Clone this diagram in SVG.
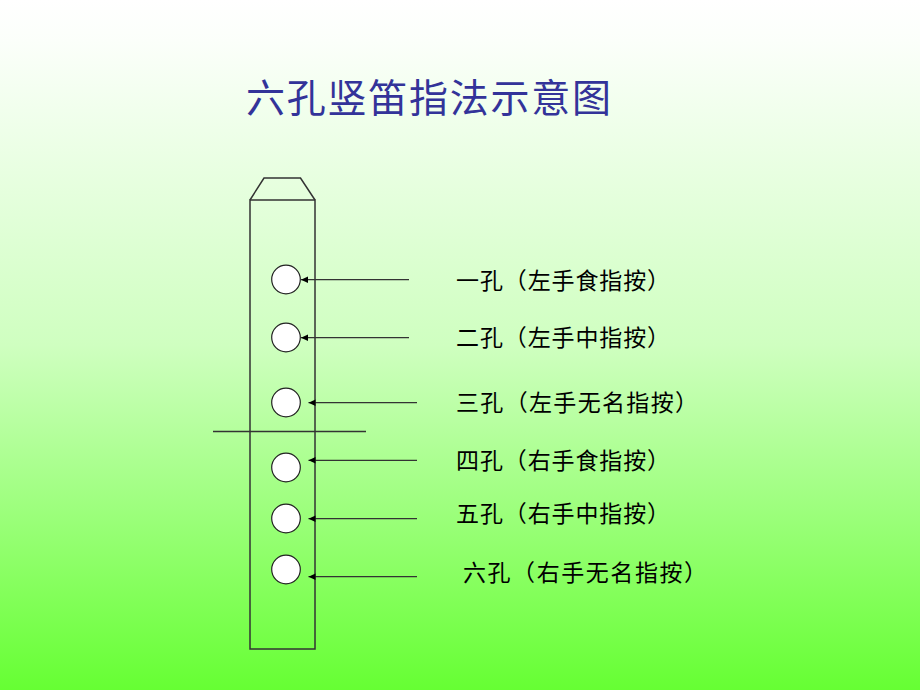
<svg xmlns="http://www.w3.org/2000/svg" width="920" height="690" viewBox="0 0 920 690">
<defs>
<linearGradient id="bg" x1="0" y1="0" x2="0" y2="1">
<stop offset="0" stop-color="#ffffff"/>
<stop offset="0.06" stop-color="#fbfffa"/>
<stop offset="0.5" stop-color="#cfffc0"/>
<stop offset="1" stop-color="#66ff33"/>
</linearGradient>
<marker id="ah" markerWidth="8" markerHeight="8" refX="7" refY="4" orient="auto" markerUnits="userSpaceOnUse">
<path d="M0,0.8 L7,4 L0,7.2 Z" fill="#000"/>
</marker>
<style>
.flute{fill:none;stroke:#333;stroke-width:1.5}
.hole{fill:#fff;stroke:#222;stroke-width:1.2}
.conn{stroke:#333;stroke-width:1.2;fill:none;marker-end:url(#ah)}
.lbl{font-family:"Noto Sans CJK SC","Noto Sans CJK TC",sans-serif;font-size:23px;font-weight:400;fill:#000}
.title{font-family:"Noto Sans CJK SC",sans-serif;font-size:39px;font-weight:400;fill:#333399}
</style>
</defs>
<rect x="0" y="0" width="920" height="690" fill="url(#bg)"/>
<text id="title" class="title" x="246" y="112" textLength="365" lengthAdjust="spacing">六孔竖笛指法示意图</text>
<g id="flute">
<path class="flute" d="M250,200 L264,178 L300.5,178 L315,200"/>
<rect class="flute" x="250" y="200" width="65" height="449"/>
<line class="flute" x1="213" y1="431.5" x2="366" y2="431.5"/>
</g>
<g id="hole1"><circle class="hole" cx="286" cy="279.5" r="14.3"/></g>
<g id="hole2"><circle class="hole" cx="286" cy="337.5" r="14.3"/></g>
<g id="hole3"><circle class="hole" cx="286" cy="402.5" r="14.3"/></g>
<g id="hole4"><circle class="hole" cx="286" cy="467.5" r="14.3"/></g>
<g id="hole5"><circle class="hole" cx="286" cy="518.5" r="14.3"/></g>
<g id="hole6"><circle class="hole" cx="286" cy="569.5" r="14.3"/></g>
<g id="connectors">
<line class="conn" x1="409" y1="279.7" x2="301" y2="279.7"/>
<line class="conn" x1="409" y1="337.7" x2="301" y2="337.7"/>
<line class="conn" x1="417" y1="402.7" x2="308.5" y2="402.7"/>
<line class="conn" x1="417" y1="460.3" x2="308.5" y2="460.3"/>
<line class="conn" x1="417" y1="518.7" x2="308.5" y2="518.7"/>
<line class="conn" x1="417" y1="576.7" x2="308.5" y2="576.7"/>
</g>
<g id="label1"><text class="lbl" x="456" y="288.5" textLength="214" lengthAdjust="spacing">一孔（左手食指按）</text></g>
<g id="label2"><text class="lbl" x="456" y="345.5" textLength="214" lengthAdjust="spacing">二孔（左手中指按）</text></g>
<g id="label3"><text class="lbl" x="456" y="410.5" textLength="242" lengthAdjust="spacing">三孔（左手无名指按）</text></g>
<g id="label4"><text class="lbl" x="456" y="468.5" textLength="214" lengthAdjust="spacing">四孔（右手食指按）</text></g>
<g id="label5"><text class="lbl" x="456" y="521.5" textLength="214" lengthAdjust="spacing">五孔（右手中指按）</text></g>
<g id="label6"><text class="lbl" x="463" y="580.5" textLength="244" lengthAdjust="spacing">六孔（右手无名指按）</text></g>
</svg>
